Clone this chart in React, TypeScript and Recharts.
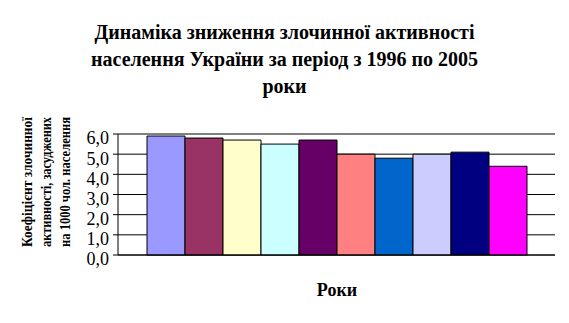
import { BarChart, Bar, XAxis, YAxis, CartesianGrid } from "recharts";

// years are the series (one bar each), a single category on the x axis
const years = ["1996", "1997", "1998", "1999", "2000", "2001", "2002", "2003", "2004", "2005"];
const rates = [5.9, 5.8, 5.7, 5.5, 5.7, 5.0, 4.8, 5.0, 5.1, 4.4];
const colors = ["#9999FF", "#993366", "#FFFFCC", "#CCFFFF", "#660066", "#FF8080", "#0066CC", "#CCCCFF", "#000080", "#FF00FF"];
const yTicks = [0, 1, 2, 3, 4, 5, 6];
const yLabelLines = ["Коефіцієнт злочинної", "активності, засуджених", "на 1000 чол. населення"];

const row: Record<string, string | number> = { name: "" };
years.forEach((y, i) => {
    row["y" + y] = rates[i];
});
const data = [row];

const serif = "'Liberation Serif', 'Times New Roman', serif";

export default function App() {
    return (
        <div style={{ position: "absolute", left: 0, top: 0, width: 569, height: 323, background: "#fff", fontFamily: serif }}>
            <div
                style={{
                    position: "absolute",
                    left: 0,
                    top: 19,
                    width: 569,
                    textAlign: "center",
                    fontWeight: "bold",
                    fontSize: 20,
                    lineHeight: "27px",
                }}
            >
                Динаміка зниження злочинної активності
                <br />
                населення України за період з 1996 по 2005
                <br />
                роки
            </div>

            <div
                style={{
                    position: "absolute",
                    left: 287,
                    top: 280,
                    width: 100,
                    textAlign: "center",
                    fontWeight: "bold",
                    fontSize: 18,
                }}
            >
                Роки
            </div>

            <BarChart
                width={569}
                height={323}
                data={data}
                margin={{ top: 134, right: 14, left: 78, bottom: 67 }}
                barCategoryGap={29}
                barGap={0}
                style={{ position: "absolute", left: 0, top: 0 }}
            >
                <CartesianGrid yAxisId="l" vertical={false} stroke="#000" strokeWidth={1} />
                <XAxis dataKey="name" tick={false} tickLine={false} axisLine={{ stroke: "#000" }} height={1} />
                <YAxis
                    yAxisId="l"
                    domain={[0, 6]}
                    ticks={yTicks}
                    interval={0}
                    width={40}
                    tickSize={5}
                    tickMargin={4}
                    tickLine={{ stroke: "#000" }}
                    axisLine={{ stroke: "#000" }}
                    tickFormatter={(v: number) => v.toFixed(1).replace(".", ",")}
                    tick={{ fill: "#000", fontSize: 18, fontFamily: serif, dy: 4 }}
                />
                <YAxis yAxisId="r" orientation="right" domain={[0, 6]} width={0} tick={false} tickLine={false} axisLine={{ stroke: "#000" }} />
                {years.map((y, i) => (
                    <Bar
                        key={y}
                        yAxisId="l"
                        dataKey={"y" + y}
                        fill={colors[i]}
                        stroke="#000"
                        strokeWidth={1}
                        isAnimationActive={false}
                    />
                ))}
            </BarChart>

            <svg width={90} height={323} style={{ position: "absolute", left: 0, top: 0 }}>
                {yLabelLines.map((t, i) => (
                    <text
                        key={t}
                        transform="rotate(-90)"
                        x={-247}
                        y={32 + i * 19}
                        fontFamily={serif}
                        fontWeight="bold"
                        fontSize={14}
                        textLength={130}
                        lengthAdjust="spacingAndGlyphs"
                        fill="#000"
                    >
                        {t}
                    </text>
                ))}
            </svg>
        </div>
    );
}
